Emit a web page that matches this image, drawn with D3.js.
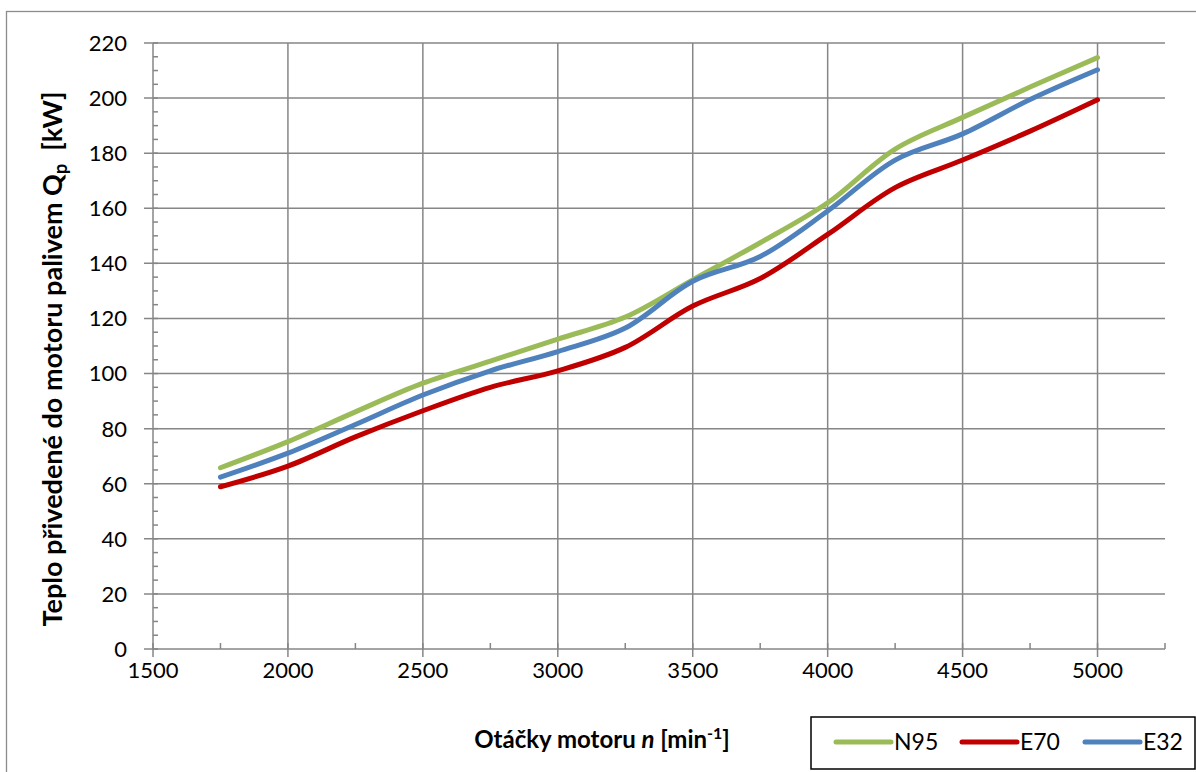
<!DOCTYPE html>
<html><head><meta charset="utf-8">
<script src="https://cdn.jsdelivr.net/npm/d3@7"></script>
<style>
html,body{margin:0;padding:0;background:#fff;}
svg text{font-family:Lato,"Open Sans",sans-serif;fill:#000;}
</style></head>
<body>
<svg id="c" width="1196" height="772"></svg>
<script>
const rpm = [1750,2000,2250,2500,2750,3000,3250,3500,3750,4000,4250,4500,4750,5000];
const N95 = [65.8,75.3,86.1,96.5,104.5,112.5,120.5,134,147.5,162,181.5,193,204,214.7];
const E70 = [58.9,66.4,77,86.5,95,101,109.5,124.5,134.5,150.5,167.5,177.5,188,199.4];
const E32 = [62.4,71.1,81.5,92.2,101,108,116.5,133.5,142.5,159,177.5,187,199.5,210.3];
const seriesNames = ["N95","E70","E32"];
const seriesColors = ["#9BBB59","#C00000","#4F81BD"];
const xTickLabels = [1500,2000,2500,3000,3500,4000,4500,5000];
const yTickLabels = [0,20,40,60,80,100,120,140,160,180,200,220];
const xMinor = d3.range(1500,5251,250);
const yMinor = d3.range(0,221,5);

const svg = d3.select("#c");
const x = d3.scaleLinear().domain([1500,5250]).range([153,1165]);
const y = d3.scaleLinear().domain([0,220]).range([649,43]);
const gridColor = "#868686";

// outer border
svg.append("rect").attr("x",6.5).attr("y",11.5).attr("width",1300).attr("height",900)
  .attr("fill","none").attr("stroke","#8c8c8c").attr("stroke-width",1.3);

// horizontal grid
const g = svg.append("g");
g.selectAll(".hg").data(yTickLabels).join("line")
  .attr("x1",x(1500)-9).attr("x2",x(5250)).attr("y1",d=>y(d)).attr("y2",d=>y(d))
  .attr("stroke",gridColor).attr("stroke-width",1.5);
// vertical grid
g.selectAll(".vg").data(xTickLabels).join("line")
  .attr("x1",d=>x(d)).attr("x2",d=>x(d)).attr("y1",y(220)).attr("y2",y(0)+8)
  .attr("stroke",gridColor).attr("stroke-width",1.5);
// minor ticks
g.selectAll(".ym").data(yMinor).join("line")
  .attr("x1",x(1500)).attr("x2",x(1500)+5).attr("y1",d=>y(d)).attr("y2",d=>y(d))
  .attr("stroke",gridColor).attr("stroke-width",1.5);
g.selectAll(".xm").data(xMinor).join("line")
  .attr("x1",d=>x(d)).attr("x2",d=>x(d)).attr("y1",y(0)).attr("y2",y(0)-6)
  .attr("stroke",gridColor).attr("stroke-width",1.5);

// tick labels
svg.selectAll(".yl").data(yTickLabels).join("text")
  .attr("x",127).attr("y",d=>y(d)).attr("dy","0.36em").attr("text-anchor","end")
  .attr("font-size",22).text(d=>d);
svg.selectAll(".xl").data(xTickLabels).join("text")
  .attr("x",d=>x(d)).attr("y",678).attr("text-anchor","middle")
  .attr("font-size",22).text(d=>d);

// lines
const data = [N95,E70,E32];
const line = d3.line().x((d,i)=>x(rpm[i])).y(d=>y(d)).curve(d3.curveCatmullRom.alpha(0.5));
svg.selectAll(".ln").data(data).join("path")
  .attr("d",d=>line(d)).attr("fill","none")
  .attr("stroke",(d,i)=>seriesColors[i]).attr("stroke-width",5)
  .attr("stroke-linecap","round").attr("stroke-linejoin","round");

// y title
const yt = svg.append("text").attr("transform","translate(62,359) rotate(-90)")
  .attr("text-anchor","middle").attr("font-size",27).attr("font-weight","bold")
  .attr("xml:space","preserve");
yt.append("tspan").text("Teplo přivedené do motoru palivem Q");
yt.append("tspan").attr("font-size",18).attr("dy",5).text("p");
yt.append("tspan").attr("dy",-5).text("  [kW]");

// x title
const xt = svg.append("text").attr("x",602).attr("y",748).attr("text-anchor","middle")
  .attr("font-size",24).attr("font-weight","bold");
xt.append("tspan").text("Otáčky motoru ");
xt.append("tspan").attr("font-style","italic").text("n");
xt.append("tspan").text(" [min");
xt.append("tspan").attr("font-size",16).attr("dy",-9).text("-1");
xt.append("tspan").attr("dy",9).text("]");

// legend
svg.append("rect").attr("x",811).attr("y",717).attr("width",384).attr("height",52)
  .attr("fill","#fff").attr("stroke","#000").attr("stroke-width",1.5);
const lx = [836,962,1085];
const lg = svg.selectAll(".lg").data(seriesNames).join("g");
lg.append("line").attr("x1",(d,i)=>lx[i]).attr("x2",(d,i)=>lx[i]+55)
  .attr("y1",742).attr("y2",742).attr("stroke",(d,i)=>seriesColors[i])
  .attr("stroke-width",5).attr("stroke-linecap","round");
lg.append("text").attr("x",(d,i)=>lx[i]+58).attr("y",742).attr("dy","0.36em")
  .attr("font-size",23).text(d=>d);
</script>
</body></html>
